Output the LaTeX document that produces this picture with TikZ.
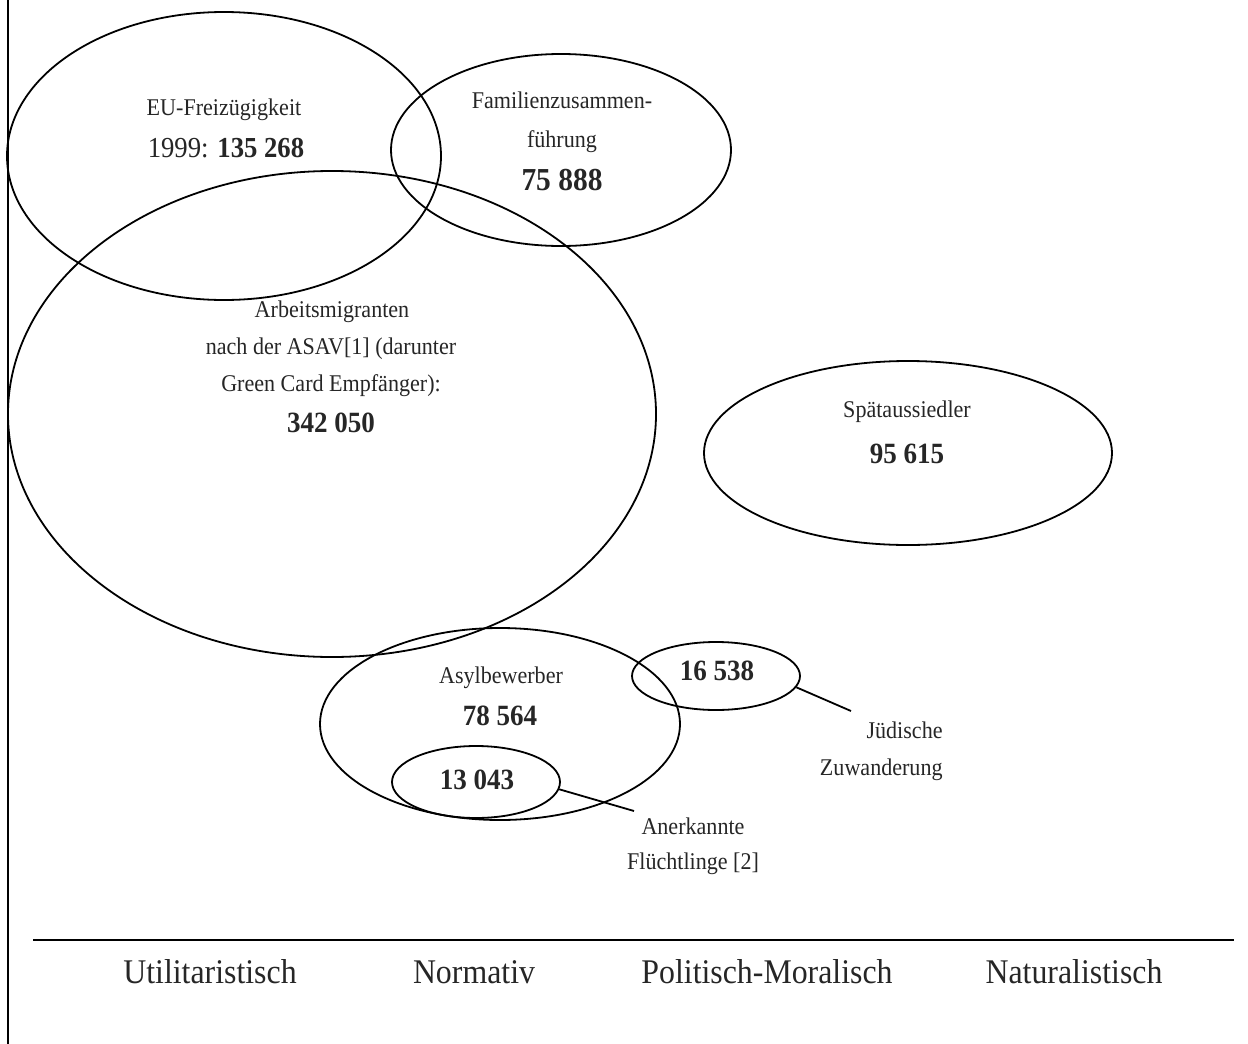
\documentclass[tikz,border=0pt]{standalone}
\usepackage{fontspec}
\setmainfont[FakeStretch=0.92]{Liberation Serif}
\usetikzlibrary{shapes.geometric}
\tikzset{
	blob/.style={draw, ellipse, inner sep=0pt, line width=0.9pt},
	lbl/.style={anchor=base, inner sep=0pt, text=black!85, font=\fontsize{12}{14}\selectfont},
	num/.style={anchor=base, inner sep=0pt, text=black!85, font=\fontsize{14.7}{17}\selectfont\bfseries},
	axislbl/.style={anchor=base, inner sep=0pt, text=black!85, font=\fontsize{17.3}{20}\selectfont},
}
\begin{document}
\begin{tikzpicture}[x=0.5pt, y=-0.5pt]
			\useasboundingbox (0,0) rectangle (1248,1044);
			\coordinate (T) at (8,0);
			\coordinate (B) at (8,1044);
			\draw[line width=0.8pt] (T) -- (B);
			\coordinate (L) at (33,940);
			\coordinate (R) at (1234,940);
			\draw[line width=1.1pt] (L) -- (R);
			\node[blob, minimum width=217pt, minimum height=144pt] (eu) at (224,156) {};
			\node[blob, minimum width=170pt, minimum height=96pt] (fam) at (561,150) {};
			\node[blob, minimum width=324pt, minimum height=243pt] (arb) at (332,414) {};
			\node[blob, minimum width=204pt, minimum height=92pt] (spaet) at (908,453) {};
			\node[blob, minimum width=180pt, minimum height=96pt] (asyl) at (500,724) {};
			\node[blob, minimum width=84pt, minimum height=36pt] (anerk) at (476,782) {};
			\node[blob, minimum width=84pt, minimum height=34pt] (jued) at (716,676) {};
			\node[lbl] (eu1) at (224,115) {EU-Freizügigkeit};
			\node[lbl, font=\fontsize{14.5}{17}\selectfont] (eu2) at (226,157) {1999: \textbf{135 268}};
			\node[lbl] (fam1) at (562,108) {Familienzusammen-};
			\node[lbl] (fam2) at (562,147) {führung};
			\node[num, font=\fontsize{16}{19}\selectfont\bfseries] (fam3) at (562,190) {75 888};
			\node[lbl] (arb1) at (332,317) {Arbeitsmigranten};
			\node[lbl] (arb2) at (331,354) {nach der ASAV[1] (darunter};
			\node[lbl] (arb3) at (331,391) {Green Card Empfänger):};
			\node[num] (arb4) at (331,432) {342 050};
			\node[lbl] (spaet1) at (907,417) {Spätaussiedler};
			\node[num] (spaet2) at (907,463) {95 615};
			\node[lbl] (asyl1) at (501,683) {Asylbewerber};
			\node[num] (asyl2) at (500,725) {78 564};
			\node[num] (anerk1) at (477,789) {13 043};
			\node[num] (jued1) at (717,680) {16 538};
			\coordinate (juedEnd) at (851,711);
			\draw[line width=0.9pt] (jued.-8) -- (juedEnd);
			\node[lbl, anchor=base east] (jued2) at (943,738) {Jüdische};
			\node[lbl, anchor=base east] (jued3) at (943,775) {Zuwanderung};
			\coordinate (anerkEnd) at (634,811);
			\draw[line width=0.9pt] (anerk.-5) -- (anerkEnd);
			\node[lbl] (anerk2) at (693,834) {Anerkannte};
			\node[lbl] (anerk3) at (693,869) {Flüchtlinge [2]};
			\node[axislbl] (util) at (210,983) {Utilitaristisch};
			\node[axislbl] (norm) at (474,983) {Normativ};
			\node[axislbl] (polit) at (767,983) {Politisch-Moralisch};
			\node[axislbl] (natur) at (1074,983) {Naturalistisch};
			\end{tikzpicture}
\end{document}
